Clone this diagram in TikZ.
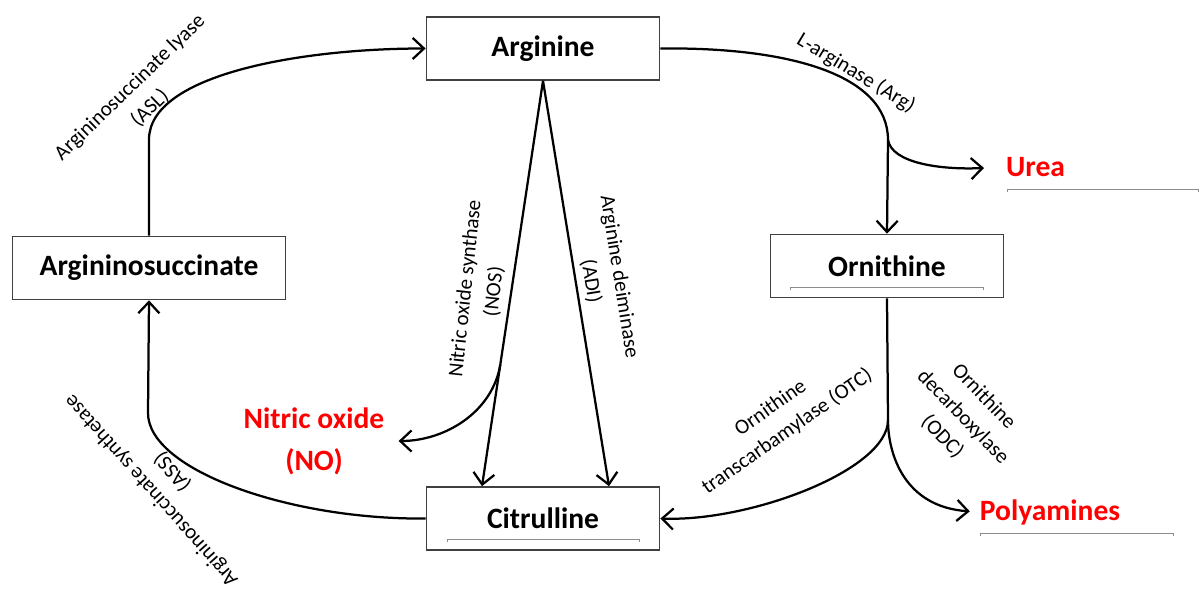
\documentclass[tikz,border=0pt]{standalone}
\usepackage{fontspec}
\setmainfont{Carlito}
\usepackage{tikz}
\usetikzlibrary{arrows.meta,calc}
\tikzset{
  box/.style={draw=black!75, line width=1pt, fill=white, font=\fontsize{21}{25}\selectfont\bfseries},
  conn/.style={line width=1.6pt, -{Straight Barb[length=8pt,width=15pt]}},
  enz/.style={font=\fontsize{15}{20.5}\selectfont, align=center, inner sep=0pt},
  prod/.style={text=red, font=\fontsize{21}{30}\selectfont\bfseries, align=center, inner sep=0pt},
  tabline/.style={draw=black!45, line width=0.6pt}
}

\begin{document}
\begin{tikzpicture}[x=0.025cm, y=-0.025cm]
      \useasboundingbox (0,0) rectangle (1203,589);

      \node[box, minimum width=166pt, minimum height=45pt] (arg) at (543,48.5) {Arginine};
      \node[box, minimum width=194pt, minimum height=45pt] (asuc) at (149,268) {Argininosuccinate};
      \node[box, minimum width=166pt, minimum height=45pt] (orn) at (887,266) {Ornithine};
      \node[box, minimum width=166pt, minimum height=45pt] (cit) at (543,518.5) {Citrulline};

      \node[prod] (urea) at (1035.5,167) {Urea};
      \node[prod] (poly) at (1050,512) {Polyamines};
      \node[prod] (no) at (314,441) {Nitric oxide\\(NO)};

      \draw[tabline] (790,290) -- (790,287) -- (983,287) -- (983,290);
      \draw[tabline] (447,542) -- (447,539) -- (639,539) -- (639,542);
      \draw[tabline] (1007,192) -- (1007,189) -- (1198,189) -- (1198,192);
      \draw[tabline] (980,536) -- (980,533) -- (1173,533) -- (1173,536);

      \draw[conn] (asuc.north) -- ++(0,-96) .. controls +(0,-65) and +(-125,0) .. (arg.west);
      \draw[conn] (arg.east) .. controls (790,47) and (888,75) .. (888,140)
        coordinate (ureab) -- (orn.north);
      \draw[conn, shorten >=15.5pt] (ureab) .. controls (892,163) and (940,170) .. (urea.west);

      \draw[conn] (arg.south) -- coordinate[pos=0.7] (nosb) ($(cit.north)+(-61,0)$);
      \draw[conn] (arg.south) -- ($(cit.north)+(66,0)$);
      \draw[conn, shorten >=10pt] (nosb) .. controls +(-8,48) and +(60,0) .. (no.east);

      \draw[conn] (cit.west) .. controls (290,520) and (148,470) .. (148,413) -- (asuc.south);

      \draw[conn] (orn.south) -- (888,420) coordinate (ornb)
        .. controls (888,470) and (750,522) .. (cit.east);
      \draw[conn, shorten >=7pt] (ornb) .. controls (888,455) and (905,507) .. (poly.west);

      \node[enz, rotate=44] (asl) at (140,98) {Argininosuccinate lyase\\(ASL)};
      \node[enz, rotate=131.7] (ass) at (162,481) {Argininosuccinate synthetase\\(ASS)};
      \node[enz, rotate=-31] (larg) at (856,73) {L-arginase (Arg)};
      \node[enz, rotate=84] (nos) at (480,290) {Nitric oxide synthase\\(NOS)};
      \node[enz, rotate=-81] (adi) at (605,279) {Arginine deiminase\\(ADI)};
      \node[enz, rotate=35] (otc) at (779,420) {Ornithine\\transcarbamylase (OTC)};
      \node[enz, rotate=-46] (odc) at (963,417) {Ornithine\\decarboxylase\\(ODC)};
    \end{tikzpicture}
\end{document}
